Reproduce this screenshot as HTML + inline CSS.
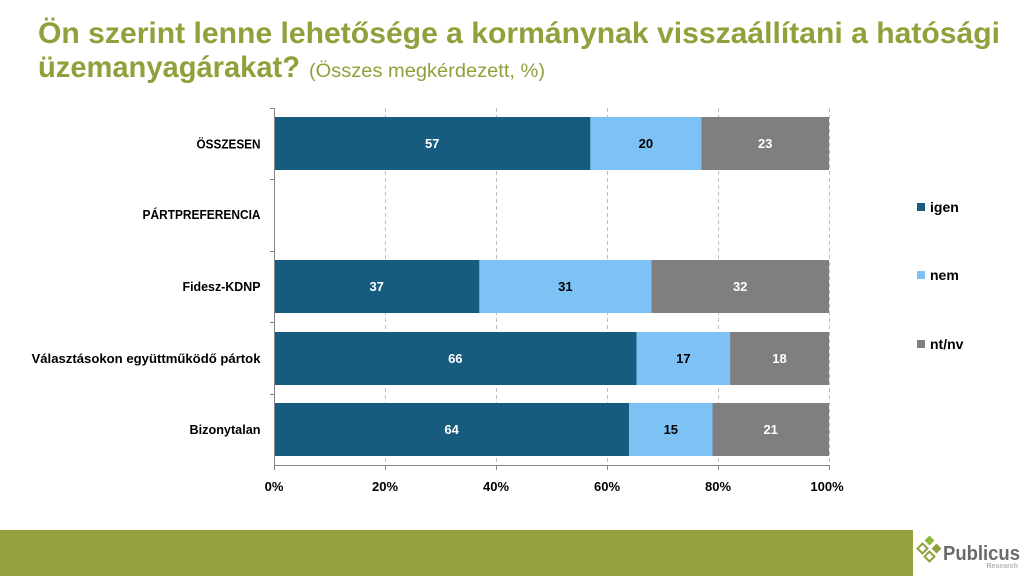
<!DOCTYPE html>
<html>
<head>
<meta charset="utf-8">
<style>
html,body{margin:0;padding:0;background:#fff;}
svg{display:block;font-family:"Liberation Sans",Arial,sans-serif;}
</style>
</head>
<body>
<svg width="1024" height="576" viewBox="0 0 1024 576" xmlns="http://www.w3.org/2000/svg">
  <rect x="0" y="0" width="1024" height="576" fill="#fff"/>

  <!-- Title -->
  <text x="38" y="43" font-size="30" font-weight="bold" fill="#8EA13B" textLength="962" lengthAdjust="spacingAndGlyphs">Ön szerint lenne lehetősége a kormánynak visszaállítani a hatósági</text>
  <text x="38" y="77" font-size="30" font-weight="bold" fill="#8EA13B" textLength="262" lengthAdjust="spacingAndGlyphs">üzemanyagárakat?</text>
  <text x="309" y="77" font-size="19" fill="#8EA13B" textLength="236" lengthAdjust="spacingAndGlyphs">(Összes megkérdezett, %)</text>

  <!-- Gridlines -->
  <g stroke="#BFBFBF" stroke-width="1" stroke-dasharray="4,3">
    <line x1="385.5" y1="108" x2="385.5" y2="465"/>
    <line x1="496.5" y1="108" x2="496.5" y2="465"/>
    <line x1="607.5" y1="108" x2="607.5" y2="465"/>
    <line x1="718.5" y1="108" x2="718.5" y2="465"/>
    <line x1="829.5" y1="108" x2="829.5" y2="465"/>
  </g>

  <!-- Bars -->
  <rect x="274" y="117" width="316.4" height="53" fill="#175C7E"/>
  <rect x="590.4" y="117" width="111" height="53" fill="#7CC2F5"/>
  <rect x="701.4" y="117" width="127.6" height="53" fill="#7F7F7F"/>

  <rect x="274" y="260" width="205.4" height="53" fill="#175C7E"/>
  <rect x="479.4" y="260" width="172" height="53" fill="#7CC2F5"/>
  <rect x="651.4" y="260" width="177.6" height="53" fill="#7F7F7F"/>

  <rect x="274" y="332" width="362.7" height="53" fill="#175C7E"/>
  <rect x="636.7" y="332" width="93.4" height="53" fill="#7CC2F5"/>
  <rect x="730.1" y="332" width="98.9" height="53" fill="#7F7F7F"/>

  <rect x="274" y="403" width="355.2" height="53" fill="#175C7E"/>
  <rect x="629.2" y="403" width="83.3" height="53" fill="#7CC2F5"/>
  <rect x="712.5" y="403" width="116.5" height="53" fill="#7F7F7F"/>

  <!-- Axes -->
  <g stroke="#868686" stroke-width="1">
    <line x1="274.5" y1="108" x2="274.5" y2="466"/>
    <line x1="274" y1="465.5" x2="830" y2="465.5"/>
    <line x1="270" y1="108.5" x2="274" y2="108.5"/>
    <line x1="270" y1="179.5" x2="274" y2="179.5"/>
    <line x1="270" y1="251.5" x2="274" y2="251.5"/>
    <line x1="270" y1="322.5" x2="274" y2="322.5"/>
    <line x1="270" y1="394.5" x2="274" y2="394.5"/>
    <line x1="274.5" y1="465" x2="274.5" y2="470"/>
    <line x1="385.5" y1="465" x2="385.5" y2="470"/>
    <line x1="496.5" y1="465" x2="496.5" y2="470"/>
    <line x1="607.5" y1="465" x2="607.5" y2="470"/>
    <line x1="718.5" y1="465" x2="718.5" y2="470"/>
    <line x1="829.5" y1="465" x2="829.5" y2="470"/>
  </g>

  <!-- Value labels -->
  <g font-size="13" font-weight="bold" text-anchor="middle">
    <text x="432.2" y="148" fill="#fff">57</text>
    <text x="645.9" y="148" fill="#000">20</text>
    <text x="765.2" y="148" fill="#fff">23</text>
    <text x="376.7" y="291" fill="#fff">37</text>
    <text x="565.4" y="291" fill="#000">31</text>
    <text x="740.2" y="291" fill="#fff">32</text>
    <text x="455.3" y="363" fill="#fff">66</text>
    <text x="683.4" y="363" fill="#000">17</text>
    <text x="779.5" y="363" fill="#fff">18</text>
    <text x="451.6" y="434" fill="#fff">64</text>
    <text x="670.8" y="434" fill="#000">15</text>
    <text x="770.7" y="434" fill="#fff">21</text>
  </g>

  <!-- Category labels -->
  <g font-size="12.5" font-weight="bold" fill="#000" text-anchor="end">
    <text x="260.5" y="148.5" textLength="64" lengthAdjust="spacingAndGlyphs">ÖSSZESEN</text>
    <text x="260.5" y="219" textLength="118" lengthAdjust="spacingAndGlyphs">PÁRTPREFERENCIA</text>
    <text x="260.5" y="291" textLength="78" lengthAdjust="spacingAndGlyphs">Fidesz-KDNP</text>
    <text x="260.5" y="363" textLength="229" lengthAdjust="spacingAndGlyphs">Választásokon együttműködő pártok</text>
    <text x="260.5" y="434" textLength="71" lengthAdjust="spacingAndGlyphs">Bizonytalan</text>
  </g>

  <!-- X axis labels -->
  <g font-size="13" font-weight="bold" fill="#000" text-anchor="middle">
    <text x="274" y="491">0%</text>
    <text x="385" y="491">20%</text>
    <text x="496" y="491">40%</text>
    <text x="607" y="491">60%</text>
    <text x="718" y="491">80%</text>
    <text x="827" y="491">100%</text>
  </g>

  <!-- Legend -->
  <rect x="917" y="203" width="8" height="8" fill="#175C7E"/>
  <text x="930" y="212" font-size="14" font-weight="bold" fill="#000">igen</text>
  <rect x="917" y="271" width="8" height="8" fill="#7CC2F5"/>
  <text x="930" y="280" font-size="14" font-weight="bold" fill="#000">nem</text>
  <rect x="917" y="340" width="8" height="8" fill="#7F7F7F"/>
  <text x="930" y="349" font-size="14" font-weight="bold" fill="#000">nt/nv</text>

  <!-- Footer band -->
  <rect x="0" y="530" width="913" height="46" fill="#96A03C"/>

  <!-- Logo -->
  <g>
    <rect x="926" y="537" width="7" height="7" transform="rotate(45 929.5 540.5)" fill="#8DB83A"/>
    <rect x="919" y="545" width="7" height="7" transform="rotate(45 922.5 548.5)" fill="none" stroke="#8DA03C" stroke-width="2"/>
    <rect x="933" y="545" width="7" height="7" transform="rotate(45 936.5 548.5)" fill="#8DA03C"/>
    <rect x="926" y="553" width="7" height="7" transform="rotate(45 929.5 556.5)" fill="none" stroke="#8DA03C" stroke-width="2"/>
  </g>
  <text x="943" y="560" font-size="20" font-weight="bold" fill="#6B6B6B" textLength="77" lengthAdjust="spacingAndGlyphs">Publicus</text>
  <text x="1018" y="568" font-size="7" font-weight="bold" fill="#B5B5B5" text-anchor="end">Research</text>
</svg>
</body>
</html>
